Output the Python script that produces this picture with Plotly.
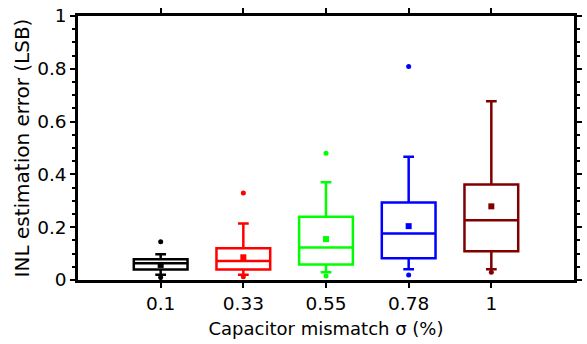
import plotly.graph_objects as go

categories = ["0.1", "0.33", "0.55", "0.78", "1"]
colors = ["#000000", "#ff0000", "#00ff00", "#0000ff", "#800000"]
q1 = [0.040, 0.040, 0.059, 0.082, 0.109]
median = [0.063, 0.072, 0.123, 0.176, 0.226]
q3 = [0.079, 0.120, 0.240, 0.294, 0.362]
lower_fence = [0.020, 0.020, 0.029, 0.041, 0.041]
upper_fence = [0.098, 0.214, 0.370, 0.467, 0.677]
means = [0.057, 0.086, 0.155, 0.204, 0.279]
outliers = [[0.145, 0.009], [0.33, 0.0125], [0.48, 0.015], [0.809, 0.019], [0.029]]

positions = list(range(1, len(categories) + 1))

fig = go.Figure()
for i, pos in enumerate(positions):
    fig.add_trace(go.Box(
        x=[pos], q1=[q1[i]], median=[median[i]], q3=[q3[i]],
        lowerfence=[lower_fence[i]], upperfence=[upper_fence[i]],
        width=0.65, whiskerwidth=0.2,
        line=dict(color=colors[i], width=2.5),
        fillcolor="rgba(0,0,0,0)", boxpoints=False, showlegend=False,
    ))
    fig.add_trace(go.Scatter(
        x=[pos] * len(outliers[i]), y=outliers[i], mode="markers",
        marker=dict(symbol="circle", size=5, color=colors[i]),
        showlegend=False,
    ))
    fig.add_trace(go.Scatter(
        x=[pos], y=[means[i]], mode="markers",
        marker=dict(symbol="square", size=6, color=colors[i]),
        showlegend=False,
    ))

tick_font = dict(family="DejaVu Sans", size=18.5, color="#000000")
xtitle_font = dict(family="DejaVu Sans", size=18, color="#000000")
ytitle_font = dict(family="DejaVu Sans", size=20, color="#000000")
fig.update_layout(
    width=587, height=344,
    margin=dict(l=78, r=5, t=15, b=64),
    plot_bgcolor="white", paper_bgcolor="white",
    font=tick_font,
    xaxis=dict(
        range=[0, 6], tickvals=positions, ticktext=categories,
        showgrid=False, zeroline=False,
        showline=True, linecolor="black", linewidth=2.5, mirror="allticks",
        ticks="outside", ticklen=5, tickwidth=2, tickcolor="black",
        title=dict(text="Capacitor mismatch σ (%)", font=xtitle_font, standoff=10),
        tickfont=tick_font,
    ),
    yaxis=dict(
        range=[0, 1], tickvals=[0, 0.2, 0.4, 0.6, 0.8, 1],
        ticktext=["0", "0.2", "0.4", "0.6", "0.8", "1"],
        showgrid=False, zeroline=False,
        showline=True, linecolor="black", linewidth=2.5, mirror="allticks",
        ticks="outside", ticklen=5, tickwidth=2, tickcolor="black",
        minor=dict(dtick=0.05, tick0=0, ticks="outside", ticklen=3, tickwidth=2,
                   tickcolor="black", showgrid=False),
        title=dict(text="INL estimation error (LSB)", font=ytitle_font, standoff=3),
        tickfont=tick_font,
    ),
)

fig.write_html("out.html")
